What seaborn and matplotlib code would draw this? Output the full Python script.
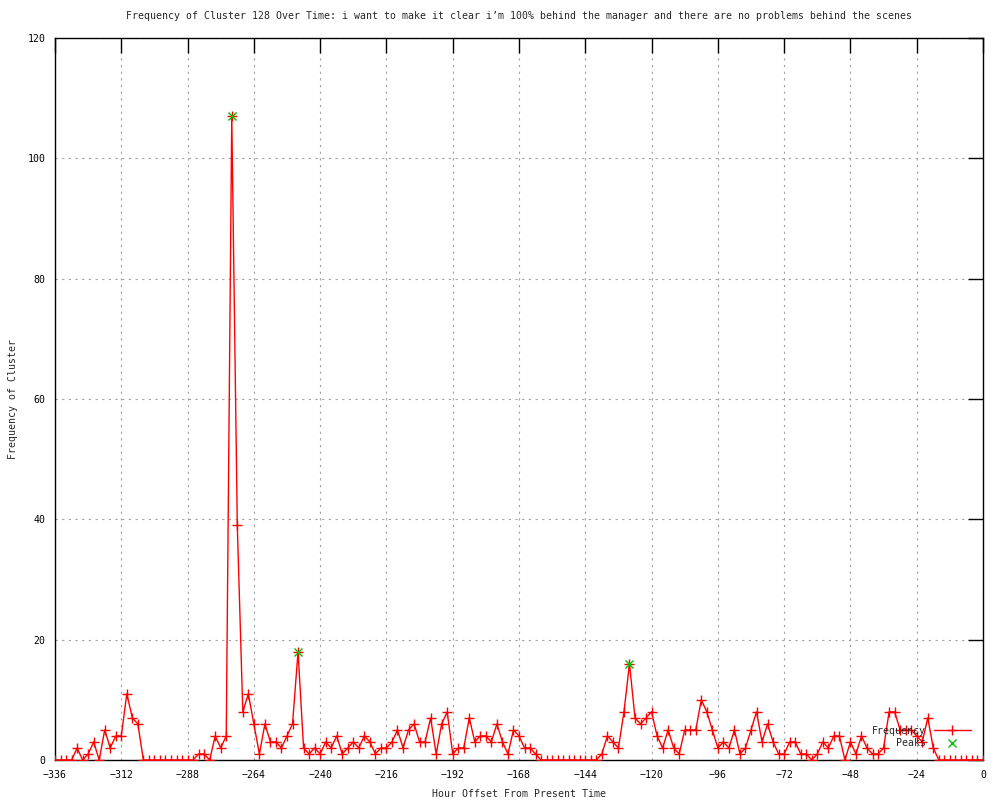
import numpy as np
import pandas as pd
import seaborn as sns
import matplotlib
matplotlib.use("Agg")
import matplotlib.pyplot as plt

# hour offsets (every 2 hours) and cluster frequency
hours = list(range(-336, 1, 2))
freq = [
    0, 0, 0, 0, 2, 0, 1, 3, 0, 5, 2, 4, 4, 11, 7, 6,          # -336 .. -306
    0, 0, 0, 0, 0, 0, 0, 0, 0, 0,                             # -304 .. -286
    1, 1, 0, 4, 2, 4,                                         # -284 .. -274
    107, 39, 8, 11, 6, 1, 6, 3, 3, 2, 4, 6,                   # -272 .. -250
    18, 2, 1, 2, 1, 3, 2, 4, 1, 2, 3, 2, 4, 3, 1, 2, 2, 3,    # -248 .. -214
    5, 2, 5, 6, 3, 3,                                         # -212 .. -202
    7, 1, 6, 8, 1, 2, 2, 7, 3, 4, 4, 3, 6, 3, 1, 5, 4, 2, 2, 1,  # -200 .. -162
    0, 0, 0, 0, 0, 0, 0, 0, 0, 0, 0,                          # -160 .. -140
    1, 4, 3, 2, 8, 16, 7, 6, 7, 8,                            # -138 .. -120
    4, 2, 5, 2, 1, 5, 5, 5, 10, 8,                            # -118 .. -100
    5, 2, 3, 2, 5, 1, 2, 5, 8, 3,                             # -98 .. -80
    6, 3, 1, 1, 3, 3, 1, 1, 0, 1,                             # -78 .. -60
    3, 2, 4, 4, 0, 3, 1, 4, 2, 1,                             # -58 .. -40
    1, 2, 8, 8, 5, 5, 5, 4, 3, 7, 2,                          # -38 .. -18
    0, 0, 0, 0, 0, 0, 0, 0, 0,                                # -16 .. 0
]
peak_hours = [-272, -248, -128]
peak_values = [107, 18, 16]

x_ticks = list(range(-336, 1, 24))
y_ticks = list(range(0, 121, 20))

df = pd.DataFrame({"hour": hours, "freq": freq})
peaks = pd.DataFrame({"hour": peak_hours, "freq": peak_values})

sns.set_theme(style="white")
plt.rcParams["font.family"] = ["DejaVu Sans Mono", "DejaVu Sans"]
fs = 7.1

fig = plt.figure(figsize=(10, 8), dpi=100)
ax = fig.add_axes([0.055, 0.05, 0.928, 0.9025])

sns.lineplot(data=df, x="hour", y="freq", color="#ff0000", linewidth=1,
             marker="+", markersize=7, markeredgewidth=1, markeredgecolor="#ff0000",
             label="Frequency", ax=ax, zorder=3)
ax.plot(peaks["hour"], peaks["freq"], linestyle="none", marker="x",
        markersize=6, markeredgewidth=1, color="#00c000", label="Peaks", zorder=4)

ax.set_xlim(-336, 0)
ax.set_ylim(0, 120)
ax.set_xticks(x_ticks)
ax.set_yticks(y_ticks)
ax.tick_params(direction="in", length=11, width=1, colors="black", labelsize=fs,
               top=True, right=True, pad=7)
ax.grid(True, color="#a0a0a0", linestyle=(0, (2, 4)), linewidth=0.8)
for s in ax.spines.values():
    s.set_color("black")
    s.set_linewidth(1)

ax.set_xlabel("Hour Offset From Present Time", fontsize=fs, labelpad=7)
ax.set_ylabel("Frequency of Cluster", fontsize=fs, labelpad=7)
ax.set_title("Frequency of Cluster 128 Over Time: i want to make it clear i\u2019m 100% behind the manager and there are no problems behind the scenes",
             fontsize=fs, pad=14)

ax.legend(loc="lower right", frameon=False, markerfirst=False, fontsize=fs,
          handlelength=3.8, borderaxespad=0.8, labelspacing=0.25)

fig.savefig("out.png", dpi=100)
